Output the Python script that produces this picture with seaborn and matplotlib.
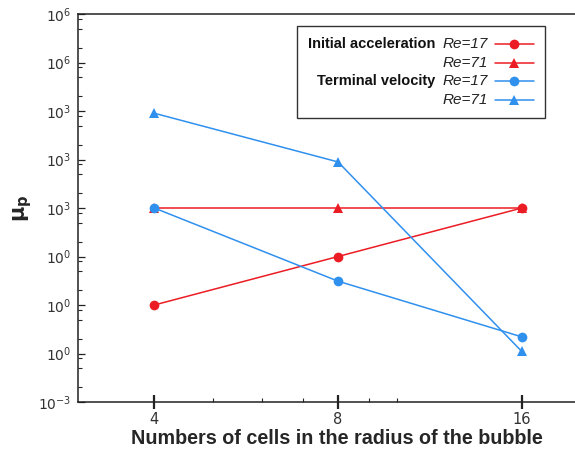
import numpy as np
import pandas as pd
import matplotlib
matplotlib.use("Agg")
import matplotlib.pyplot as plt
import matplotlib.ticker as mticker
from matplotlib.lines import Line2D
from matplotlib.offsetbox import (AnchoredOffsetbox, DrawingArea, HPacker,
                                  TextArea, VPacker)
import seaborn as sns

# ---------------- data ----------------
cells = [4, 8, 16]
init_re17 = [0.1, 1.0, 10.0]
init_re71 = [10.0, 10.0, 10.0]
term_re17 = [10.0, 0.31, 0.022]
term_re71 = [900.0, 89.0, 0.011]

ytick_vals = [1e-3, 1e-2, 1e-1, 1e0, 1e1, 1e2, 1e3, 1e4, 1e5]
ytick_labels = [r"$10^{-3}$", r"$10^{0}$", r"$10^{0}$", r"$10^{0}$", r"$10^{3}$",
                r"$10^{3}$", r"$10^{3}$", r"$10^{6}$", r"$10^{6}$"]
xtick_vals = [4, 8, 16]
xminor_vals = [5, 6, 7, 9, 10]

red = "#ec1c24"
blue = "#3090ee"

df = pd.concat([
    pd.DataFrame({"cells": cells, "mu": init_re17, "kind": "Initial acceleration", "Re": "17"}),
    pd.DataFrame({"cells": cells, "mu": init_re71, "kind": "Initial acceleration", "Re": "71"}),
    pd.DataFrame({"cells": cells, "mu": term_re17, "kind": "Terminal velocity", "Re": "17"}),
    pd.DataFrame({"cells": cells, "mu": term_re71, "kind": "Terminal velocity", "Re": "71"}),
])

sns.set_style("ticks")
plt.rcParams["font.family"] = ["DejaVu Sans"]

fig = plt.figure(figsize=(5.75, 4.54), dpi=100)
ax = fig.add_axes([78 / 575, 52 / 454, 503 / 575, 388 / 454])

sns.lineplot(
    data=df, x="cells", y="mu",
    hue="kind", style="Re",
    palette={"Initial acceleration": red, "Terminal velocity": blue},
    markers={"17": "o", "71": "^"}, dashes=False,
    markersize=7, markeredgewidth=0, linewidth=1.1,
    legend=False, ax=ax,
)

ax.set_xscale("log")
ax.set_yscale("log")
ax.set_xlim(3, 20)
ax.set_ylim(1e-3, 1e5)

ax.xaxis.set_major_locator(mticker.FixedLocator(xtick_vals))
ax.xaxis.set_major_formatter(mticker.FixedFormatter([str(v) for v in xtick_vals]))
ax.xaxis.set_minor_locator(mticker.FixedLocator(xminor_vals))
ax.xaxis.set_minor_formatter(mticker.NullFormatter())

ax.yaxis.set_major_locator(mticker.FixedLocator(ytick_vals))
ax.yaxis.set_major_formatter(mticker.FixedFormatter(ytick_labels))
ax.yaxis.set_minor_locator(mticker.LogLocator(base=10, subs=(2, 5, 8), numticks=20))
ax.yaxis.set_minor_formatter(mticker.NullFormatter())

ax.tick_params(axis="x", which="major", direction="inout", length=10, width=1.6,
               labelsize=10.5, pad=2, colors="#222222", labelcolor="#333333")
ax.tick_params(axis="x", which="minor", direction="in", length=3, width=0.8)
ax.tick_params(axis="y", which="major", direction="in", length=5, width=0.9,
               labelsize=10, pad=5, colors="#222222", labelcolor="#333333")
ax.tick_params(axis="y", which="minor", direction="in", length=3, width=0.8)

for side in ["left", "bottom", "top"]:
    ax.spines[side].set_linewidth(1.1)
    ax.spines[side].set_color("#222222")
ax.spines["right"].set_visible(False)

ax.set_xlabel("Numbers of cells in the radius of the bubble",
              fontfamily="Liberation Sans", fontweight="bold", fontsize=14.2)
ax.xaxis.set_label_coords(259 / 503, -36 / 388, transform=ax.transAxes)
ax.xaxis.label.set_verticalalignment("center")
ax.set_ylabel(r"$\mathbf{\mu_p}$", fontsize=15, labelpad=3)

# ---------------- legend: group label, Re label, handle (right aligned) ----------------
group_font = dict(family="Liberation Sans", weight="bold", size=10.5, color="#111111")
re_font = dict(family="Liberation Sans", style="italic", size=11, color="#222222")


def handle_box(color, marker):
    da = DrawingArea(28, 10, 0, 0)
    da.add_artist(Line2D([0, 28], [5, 5], color=color, lw=1.1))
    da.add_artist(Line2D([14], [5], color=color, marker=marker, markersize=7,
                         markeredgewidth=0))
    return da


rows = []
entries = [
    ("Initial acceleration", "Re=17", red, "o"),
    (None, "Re=71", red, "^"),
    ("Terminal velocity", "Re=17", blue, "o"),
    (None, "Re=71", blue, "^"),
]
for group, re_label, color, marker in entries:
    children = []
    if group:
        children.append(TextArea(group, textprops=group_font))
    children.append(TextArea(re_label, textprops=re_font))
    children.append(handle_box(color, marker))
    rows.append(HPacker(children=children, align="center", pad=0, sep=5))

legend_box = VPacker(children=rows, align="right", pad=0, sep=3.3)
anchored = AnchoredOffsetbox(loc="upper left", child=legend_box, pad=0.8, borderpad=0,
                             frameon=True, bbox_to_anchor=(219 / 503, 1 - 12 / 388),
                             bbox_transform=ax.transAxes)
anchored.patch.set_edgecolor("#333333")
anchored.patch.set_linewidth(1.0)
anchored.patch.set_boxstyle("square", pad=0)
ax.add_artist(anchored)

plt.savefig("out.png", dpi=100)
plt.close()
